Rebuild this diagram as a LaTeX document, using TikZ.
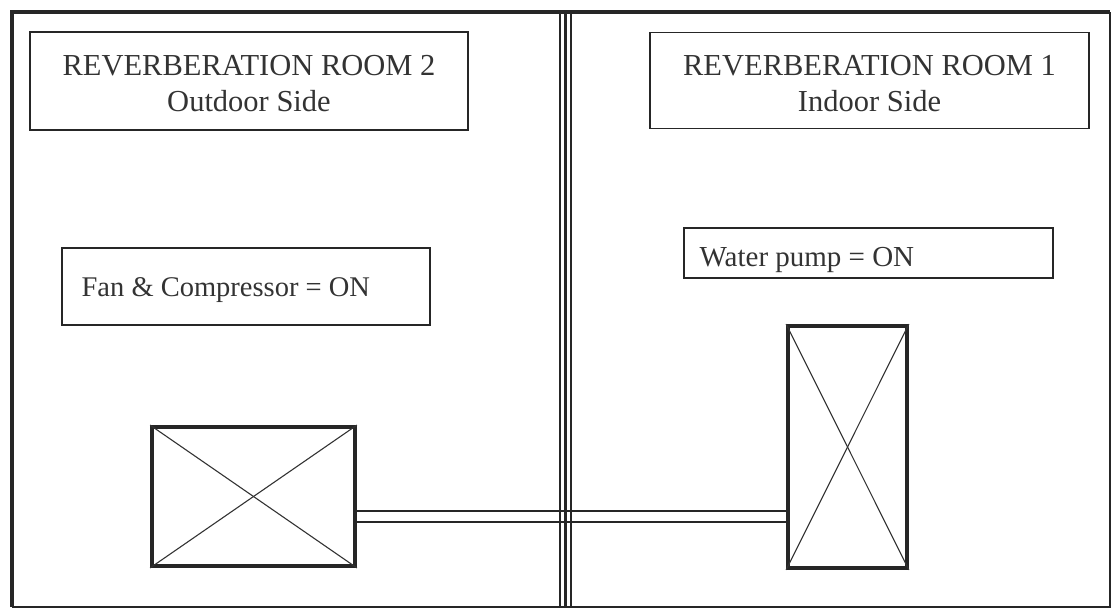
\documentclass[tikz,border=0pt]{standalone}
\usepackage{fontspec}
\setmainfont{Liberation Serif}
\begin{document}
\begin{tikzpicture}[x=1pt,y=-1pt,
  labelbox/.style={draw=black!85,line width=1.8pt,inner sep=0pt,text=black!80},
  unitbox/.style={draw=black!85,line width=3.8pt,inner sep=0pt},
  wall/.style={draw=black!85},
  cross/.style={draw=black!80,line width=1.1pt},
  pipe/.style={draw=black!85,line width=1.5pt}]
\useasboundingbox (0,0) rectangle (1115,612);
% outer frame
\draw[wall,line width=3.5pt] (12,607) -- (12,12) -- (1110,12);
\draw[wall,line width=2pt] (1110,12) -- (1110,607) -- (12,607);
% middle wall
\coordinate (wt1) at (560,12); \coordinate (wb1) at (560,607);
\coordinate (wt2) at (565,12); \coordinate (wb2) at (565,607);
\coordinate (wt3) at (571,12); \coordinate (wb3) at (571,607);
\draw[wall,line width=1.6pt] (wt1) -- (wb1);
\draw[wall,line width=3pt] (wt2) -- (wb2);
\draw[wall,line width=1.6pt] (wt3) -- (wb3);
% label boxes
\node[labelbox,minimum width=438pt,minimum height=98pt] (r2) at (249,81) {};
\node[align=center,text=black!80,font=\fontsize{30.5}{36}\selectfont] (r2t) at ([yshift=-3pt]r2.center) {REVERBERATION ROOM 2\\Outdoor Side};
\node[labelbox,minimum width=439pt,minimum height=96pt] (r1) at (869.5,80.5) {};
\node[align=center,text=black!80,font=\fontsize{30.5}{36}\selectfont] (r1t) at ([yshift=-3pt]r1.center) {REVERBERATION ROOM 1\\Indoor Side};
\node[labelbox,minimum width=368pt,minimum height=77pt] (fan) at (246,286.5) {};
\node[anchor=west,text=black!80,font=\fontsize{28.5}{33}\selectfont] (fant) at ([xshift=17pt,yshift=-4pt]fan.west) {Fan \& Compressor = ON};
\node[labelbox,minimum width=369pt,minimum height=50pt] (pump) at (868.5,253) {};
\node[anchor=west,text=black!80,font=\fontsize{29}{33}\selectfont] (pumpt) at ([xshift=13pt,yshift=-7pt]pump.west) {Water pump = ON};
% units
\node[unitbox,minimum width=203pt,minimum height=139pt] (lu) at (253.5,496.5) {};
\draw[cross] (lu.north west) -- (lu.south east);
\draw[cross] (lu.north east) -- (lu.south west);
\node[unitbox,minimum width=119pt,minimum height=242pt] (ru) at (847.5,447) {};
\draw[cross] (ru.north west) -- (ru.south east);
\draw[cross] (ru.north east) -- (ru.south west);
% pipes
\draw[pipe] ([yshift=-14.5pt]lu.east) -- ([yshift=-14.5pt]lu.east -| ru.west);
\draw[pipe] ([yshift=-25.5pt]lu.east) -- ([yshift=-25.5pt]lu.east -| ru.west);
\end{tikzpicture}
\end{document}
